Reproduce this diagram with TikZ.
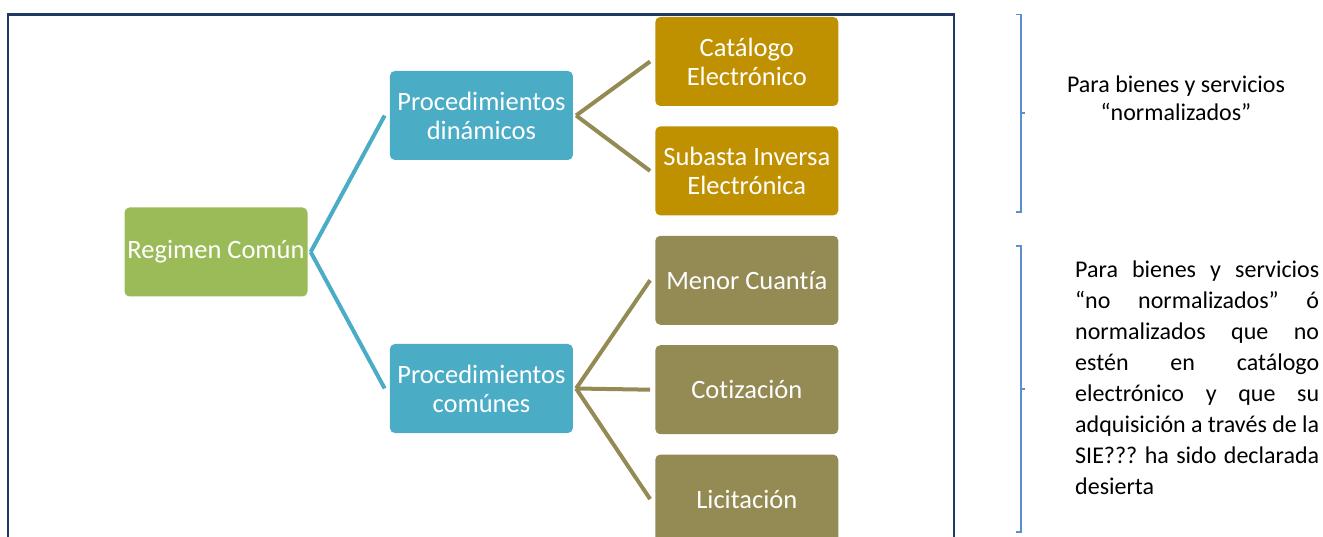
\documentclass[tikz,border=0pt]{standalone}
\usepackage{fontspec}
\setmainfont[RawFeature=-liga]{Carlito}
\usetikzlibrary{calc,positioning}
\definecolor{rootgreen}{HTML}{9BBB59}
\definecolor{procblue}{HTML}{4BACC6}
\definecolor{catgold}{HTML}{BF9000}
\definecolor{leafolive}{HTML}{948A54}
\definecolor{framenavy}{HTML}{1F3864}
\definecolor{bracketblue}{HTML}{5B8FCF}
\tikzset{
		ncbar angle/.initial=90,
		ncbar/.style={
		to path=(\tikztostart)
		-- ($(\tikztostart)!#1!\pgfkeysvalueof{/tikz/ncbar angle}:(\tikztotarget)$)
		-- ($(\tikztotarget)!($(\tikztostart)!#1!\pgfkeysvalueof{/tikz/ncbar angle}:(\tikztotarget)$)!\pgfkeysvalueof{/tikz/ncbar angle}:
			(\tikztostart)$)
		-- (\tikztotarget)
		},
		ncbar/.default=5pt,
		}
\tikzset{square right brace/.style={ncbar=-5pt}}
\frenchspacing
\begin{document}
\begin{tikzpicture}[x=1pt,y=-1pt]
					\tikzstyle{box}=[rectangle,rounded corners=5pt,minimum width=183pt,minimum height=89pt,inner sep=2pt,align=center,text=white,font=\fontsize{26.5}{29}\selectfont]
					\tikzstyle{note}=[inner sep=0pt,align=center,font=\fontsize{24}{28}\selectfont]
					\tikzstyle{link}=[line width=4pt]
					\useasboundingbox (0,0) rectangle (1323,537);
					%FRAME
					\draw[framenavy,line width=2.5pt] (8,560) -- (8,14.5) -- (954,14.5) -- (954,560);
					%NODES for Regimen
					\node[box,fill=rootgreen](reg) at (216,252){Regimen Común};
					\node[box,fill=procblue](dyn)[right=82pt of reg, yshift=136.5pt]{Procedimientos\\dinámicos};
					\node[box,fill=procblue](com)[right=82pt of reg, yshift=-136.5pt]{Procedimientos\\comúnes};
					%NODES for Procedimientos
					\node[box,fill=catgold](cat)[right=82pt of dyn, yshift=54pt]{Catálogo\\Electrónico};
					\node[box,fill=catgold](sub)[below=20pt of cat]{Subasta Inversa\\Electrónica};
					\node[box,fill=leafolive](men)[below=20pt of sub]{Menor Cuantía};
					\node[box,fill=leafolive](cot)[below=20pt of men]{Cotización};
					\node[box,fill=leafolive](lic)[below=20pt of cot]{Licitación};
					%PATHS
					\path[link,procblue] ([xshift=3pt]reg.east) edge ([xshift=-5pt]dyn.west)
					([xshift=3pt]reg.east) edge ([xshift=-5pt]com.west);
					\path[link,leafolive] ([xshift=3pt]dyn.east) edge ([xshift=-5pt]cat.west)
					([xshift=3pt]dyn.east) edge ([xshift=-5pt]sub.west)
					([xshift=3pt]com.east) edge ([xshift=-5pt]men.west)
					([xshift=3pt]com.east) edge ([xshift=-5pt]cot.west)
					([xshift=3pt]com.east) edge ([xshift=-5pt]lic.west);
					%BRACKETS
					\draw [bracketblue,line width=1.5pt] (1016,212) to [square right brace] (1016,14.5);
					\draw [bracketblue,line width=1.5pt] (1021,113) -- (1025,113);
					\draw [bracketblue,line width=1.5pt] (1016,532) to [square right brace] (1016,246);
					\draw [bracketblue,line width=1.5pt] (1021,389) -- (1025,389);
					%TEXTS
					\node[note](nor) at (1176,98){Para bienes y servicios\\“normalizados”};
					\node[note,text width=244pt,align=justify,anchor=north west,font=\fontsize{24}{31}\selectfont](nonor) at (1075,261){Para bienes y servicios\linebreak “no normalizados” ó\linebreak normalizados que no\linebreak estén en catálogo\linebreak electrónico y que su\linebreak adquisición a través de la\linebreak SIE??? ha sido declarada\linebreak desierta};
				\end{tikzpicture}
\end{document}
